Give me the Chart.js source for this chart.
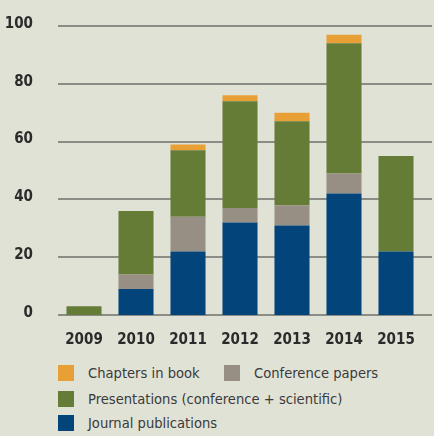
<!DOCTYPE html>
<html>
<head>
<meta charset="utf-8">
<script src="https://cdn.jsdelivr.net/npm/chart.js@4/dist/chart.umd.min.js"></script>
<style>
  html, body { margin: 0; padding: 0; background: #E1E2D6; }
  #wrap { position: relative; width: 434px; height: 436px; overflow: hidden; background: #E1E2D6; }
  #c { position: absolute; left: 0; top: 0; }
  .lg { position: absolute; font-family: "DejaVu Sans Condensed", "DejaVu Sans", sans-serif; font-size: 14.6px; color: #3a3a3a; white-space: nowrap; line-height: 16px; }
  .sw { position: absolute; width: 16px; height: 16px; }
</style>
</head>
<body>
<div id="wrap">
  <canvas id="c" width="434" height="350"></canvas>
  <div id="legend"></div>
</div>
<script>
const years = ["2009", "2010", "2011", "2012", "2013", "2014", "2015"];
const journalPublications = [0, 9, 22, 32, 31, 42, 22];
const conferencePapers = [0, 5, 12, 5, 7, 7, 0];
const presentations = [3, 22, 23, 37, 29, 45, 33];
const chaptersInBook = [0, 0, 2, 2, 3, 3, 0];
const yTicks = [0, 20, 40, 60, 80, 100];

const seriesNames = {
  journal: "Journal publications",
  conference: "Conference papers",
  presentations: "Presentations (conference + scientific)",
  chapters: "Chapters in book"
};
const colors = {
  journal: "#03457A",
  conference: "#978F83",
  presentations: "#657C36",
  chapters: "#E8A036"
};

const gridPlugin = {
  id: "gridExt",
  beforeDatasetsDraw(chart) {
    const ctx = chart.ctx;
    const y = chart.scales.y;
    ctx.save();
    ctx.strokeStyle = "#8B8C85";
    ctx.lineWidth = 2;
    yTicks.forEach(v => {
      const py = Math.round(y.getPixelForValue(v));
      ctx.beginPath();
      ctx.moveTo(chart.chartArea.left, py);
      ctx.lineTo(chart.width - 2, py);
      ctx.stroke();
    });
    ctx.restore();
  }
};

const tickFont = { family: "'DejaVu Sans Condensed', 'DejaVu Sans', sans-serif", size: 15, weight: "bold" };

new Chart(document.getElementById("c"), {
  type: "bar",
  data: {
    labels: years,
    datasets: [
      { label: seriesNames.journal, data: journalPublications, backgroundColor: colors.journal },
      { label: seriesNames.conference, data: conferencePapers, backgroundColor: colors.conference },
      { label: seriesNames.presentations, data: presentations, backgroundColor: colors.presentations },
      { label: seriesNames.chapters, data: chaptersInBook, backgroundColor: colors.chapters }
    ]
  },
  options: {
    responsive: false,
    animation: false,
    layout: { padding: { top: 24, right: 12, left: 0, bottom: 0 } },
    datasets: { bar: { barPercentage: 0.674, categoryPercentage: 1.0, borderWidth: 0 } },
    plugins: { legend: { display: false }, tooltip: { enabled: false } },
    scales: {
      x: {
        stacked: true,
        grid: { display: false },
        border: { display: false },
        ticks: { color: "#2b2b2b", font: tickFont, padding: 8 },
        afterFit(s) { s.height = 35; }
      },
      y: {
        stacked: true,
        min: 0,
        max: 100,
        afterBuildTicks(s) { s.ticks = yTicks.map(v => ({ value: v })); },
        grid: { display: false },
        border: { display: false },
        ticks: { color: "#2b2b2b", font: tickFont, padding: 17, labelOffset: -2 },
        afterFit(s) { s.width = 58; }
      }
    }
  },
  plugins: [gridPlugin]
});

// HTML legend
const legendItems = [
  { key: "chapters", x: 58, y: 365 },
  { key: "conference", x: 224, y: 365 },
  { key: "presentations", x: 58, y: 391 },
  { key: "journal", x: 58, y: 415 }
];
const lg = document.getElementById("legend");
legendItems.forEach(it => {
  const sw = document.createElement("div");
  sw.className = "sw";
  sw.style.left = it.x + "px";
  sw.style.top = it.y + "px";
  sw.style.background = colors[it.key];
  lg.appendChild(sw);
  const t = document.createElement("div");
  t.className = "lg";
  t.style.left = (it.x + 30) + "px";
  t.style.top = it.y + "px";
  t.textContent = seriesNames[it.key];
  lg.appendChild(t);
});
</script>
</body>
</html>
